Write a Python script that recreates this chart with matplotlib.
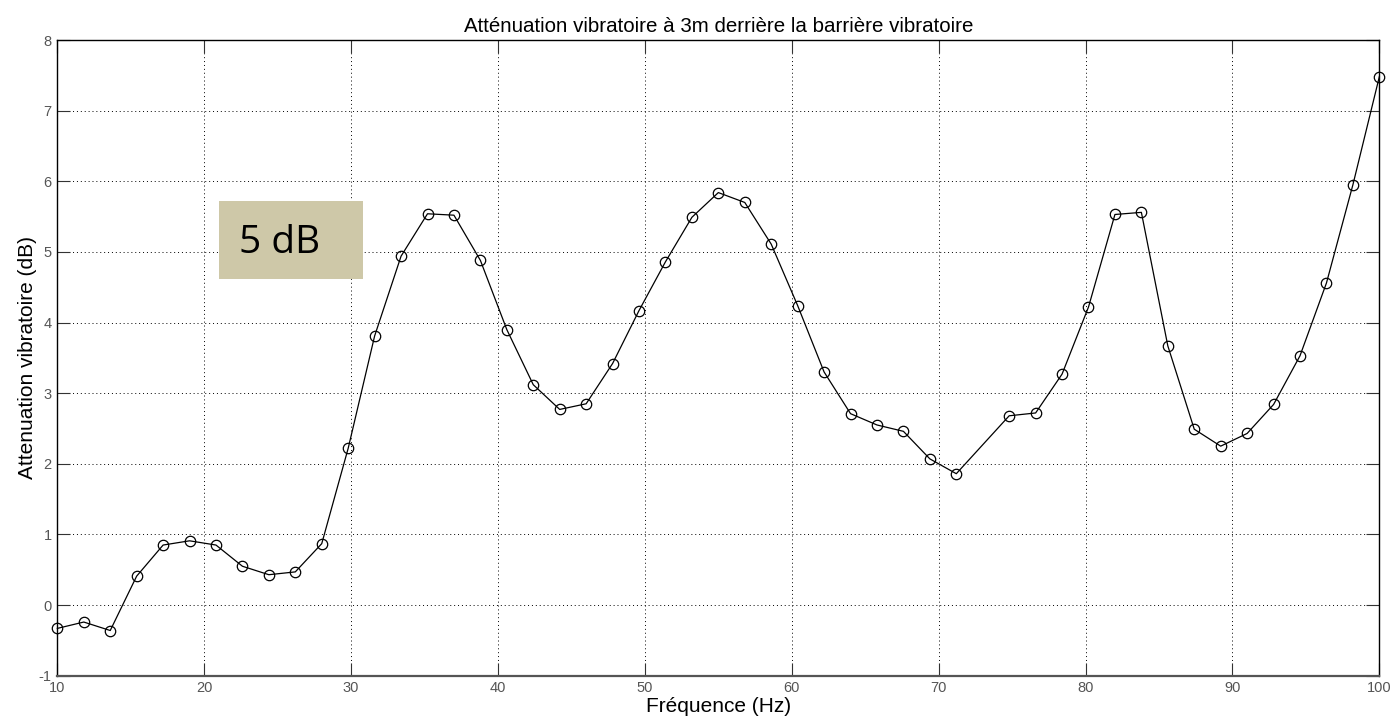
import matplotlib
matplotlib.use("Agg")
import matplotlib.pyplot as plt
from matplotlib.patches import Rectangle

# --- Données mesurées ---
freq_hz = [10.0, 11.8, 13.6, 15.4, 17.2, 19.0, 20.8, 22.6, 24.4, 26.2,
           28.0, 29.8, 31.6, 33.4, 35.2, 37.0, 38.8, 40.6, 42.4, 44.2,
           46.0, 47.8, 49.6, 51.4, 53.2, 55.0, 56.8, 58.6, 60.4, 62.2,
           64.0, 65.8, 67.6, 69.4, 71.2, 74.8, 76.6, 78.4, 80.2, 82.0,
           83.8, 85.6, 87.4, 89.2, 91.0, 92.8, 94.6, 96.4, 98.2, 100.0]
attenuation_db = [-0.33, -0.24, -0.36, 0.41, 0.85, 0.91, 0.85, 0.55, 0.43, 0.47,
                  0.87, 2.22, 3.81, 4.94, 5.54, 5.52, 4.88, 3.90, 3.12, 2.77,
                  2.85, 3.42, 4.17, 4.86, 5.49, 5.84, 5.70, 5.11, 4.24, 3.30,
                  2.71, 2.55, 2.46, 2.07, 1.86, 2.68, 2.72, 3.27, 4.22, 5.53,
                  5.56, 3.67, 2.49, 2.25, 2.43, 2.84, 3.53, 4.56, 5.95, 7.48]

x_ticks = [10, 20, 30, 40, 50, 60, 70, 80, 90, 100]
y_ticks = [-1, 0, 1, 2, 3, 4, 5, 6, 7, 8]

TITLE = "Atténuation vibratoire à 3m derrière la barrière vibratoire"
XLABEL = "Fréquence (Hz)"
YLABEL = "Attenuation vibratoire (dB)"
BOX_TEXT = "5 dB"

plt.rcParams['font.family'] = ['Liberation Sans', 'DejaVu Sans']
plt.rcParams['axes.unicode_minus'] = False

fig = plt.figure(figsize=(13.92, 7.21), dpi=100)
ax = fig.add_axes([0.0412, 0.0628, 0.9497, 0.8817])

ax.plot(freq_hz, attenuation_db, color='black', linewidth=0.9,
        marker='o', markersize=7.5, markerfacecolor='none',
        markeredgecolor='black', markeredgewidth=0.9, clip_on=False, zorder=3)

ax.set_xlim(10, 100)
ax.set_ylim(-1, 8)
ax.set_xticks(x_ticks)
ax.set_yticks(y_ticks)

ax.grid(True, linestyle=(0, (1, 3)), color='black', linewidth=0.7)
ax.tick_params(direction='in', length=9.5, width=0.8, color='#333333',
               top=True, right=True, labelsize=10.5, labelcolor='#555555',
               pad=4)

for side in ax.spines.values():
    side.set_linewidth(1.0)
    side.set_color('black')
ax.spines['bottom'].set_color('#555555')
ax.spines['bottom'].set_linewidth(1.6)

ax.set_title(TITLE, fontsize=14.8, pad=6)
ax.set_xlabel(XLABEL, fontsize=15, labelpad=1)
ax.set_ylabel(YLABEL, fontsize=15, labelpad=1)

# Encadré "5 dB"
ax.add_patch(Rectangle((21.0, 4.62), 9.8, 1.10, facecolor='#CEC8A8',
                       edgecolor='none', zorder=4))
ax.text(22.4, 5.12, BOX_TEXT, fontsize=28, family=['Open Sans', 'DejaVu Sans'],
        color='black', va='center', ha='left', zorder=5)

fig.savefig("out.png", dpi=100)
